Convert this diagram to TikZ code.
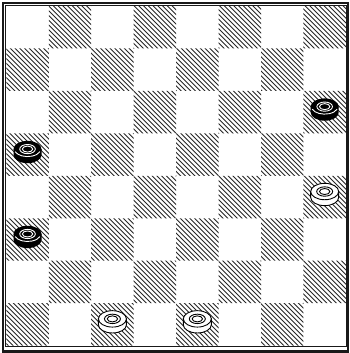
\documentclass[tikz,border=0pt]{standalone}
\begin{document}
\begin{tikzpicture}[x=1pt,y=1pt,
  hatch/.style={line width=0.75pt, black!85},
  outerframe/.style={line width=2.2pt, black!90},
  innerframe/.style={line width=0.8pt, black!90},
  pieceline/.style={line width=0.9pt},
  bpiece/.pic={
    \fill[black] (-14,5.5) -- (-14,-0.4) arc[start angle=180,end angle=360,x radius=14,y radius=8.2] -- (14,5.5) -- cycle;
    \fill[black] (0,5.5) ellipse (14 and 8.2);
    \draw[white,pieceline] ([shift={(200:13.2 and 7.5)}]0,5.5) arc[start angle=200,end angle=340,x radius=13.2,y radius=7.5];
    \draw[white,pieceline] (0,5.5) ellipse (7.8 and 4.6);
    \draw[white,pieceline] (0,5.5) ellipse (5.2 and 3);
  },
  wpiece/.pic={
    \filldraw[fill=white,draw=black,pieceline] (-14,5.5) -- (-14,-0.4) arc[start angle=180,end angle=360,x radius=14,y radius=8.2] -- (14,5.5) -- cycle;
    \filldraw[fill=white,draw=black,pieceline] (0,5.5) ellipse (14 and 8.2);
    \draw[black,pieceline] (0,5.5) ellipse (8 and 4.7);
    \draw[black,pieceline] (0,5.5) ellipse (5.2 and 3);
  }
]
\useasboundingbox (0,0) rectangle (350,-353);
\def\s{42.45}
\begin{scope}
  \clip \foreach \r in {0,...,7} { \foreach \j in {0,...,3} { ({6.3+(2*\j+1-mod(\r,2))*\s}, {-6-\r*\s}) rectangle ++(\s,-\s) } };
  \foreach \k in {-76,...,75} \draw[hatch] ({\k*4.75},0) -- ++(360,-360);
\end{scope}
\draw[outerframe] (3,-3) rectangle (348,-351);
\draw[line width=3.4pt, black!90] (1.9,-351.3) -- (349.1,-351.3);
\draw[innerframe] (5.6,-5.5) rectangle (346.3,-346.8);
\foreach \c/\r in {0/3,0/5,7/2}
  \pic at ({6.3+(\c+0.5)*\s},{-6-(\r+0.5)*\s}) {bpiece};
\foreach \c/\r in {7/4,2/7,4/7}
  \pic at ({6.3+(\c+0.5)*\s},{-6-(\r+0.5)*\s}) {wpiece};
\end{tikzpicture}
\end{document}
